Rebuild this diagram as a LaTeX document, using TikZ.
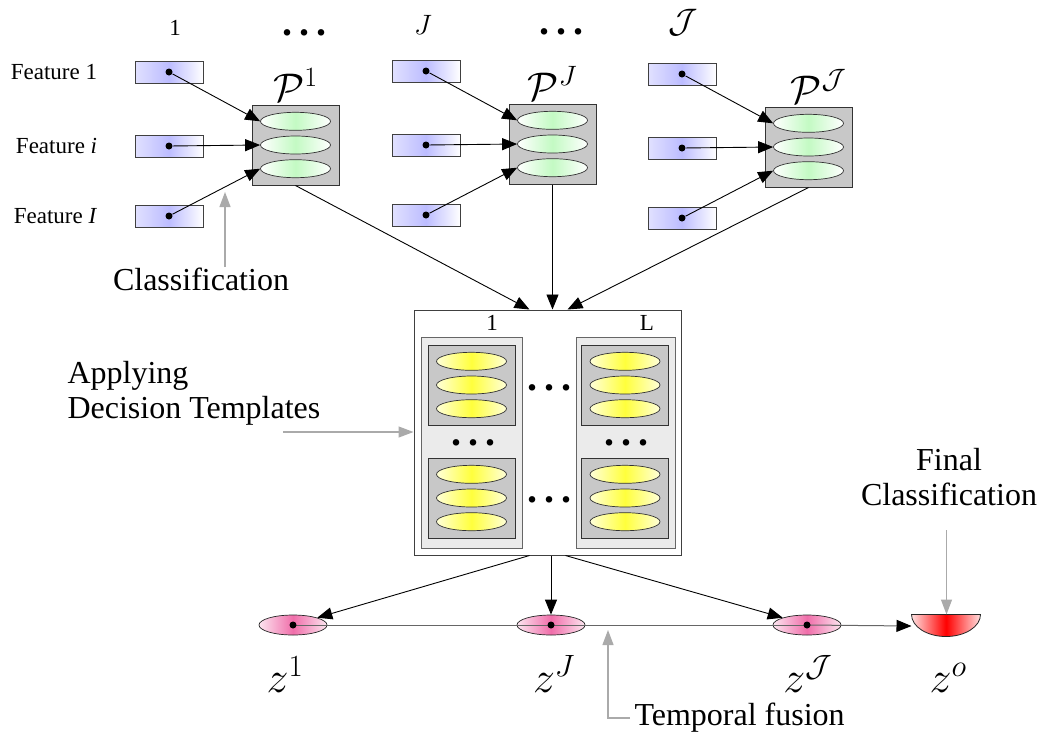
\documentclass[tikz,border=0pt]{standalone}
\usepackage{fix-cm}
\usepackage{fontspec}
\setmainfont{Liberation Serif}
\usepackage{tikz}
\usetikzlibrary{arrows.meta, positioning, shapes.geometric}
\definecolor{featblue}{RGB}{188,188,255}
\definecolor{clsgreen}{RGB}{195,250,195}
\definecolor{dtyellow}{RGB}{255,255,60}
\definecolor{zpink}{RGB}{240,110,170}
\definecolor{boxgray}{RGB}{200,200,200}
\definecolor{panelgray}{RGB}{235,235,235}
\definecolor{notegray}{RGB}{170,170,170}
\newcommand{\bigdots}{\textbf{.\kern7pt.\kern7pt.}}

\begin{document}
\begin{tikzpicture}[x=1pt, y=-1pt, line width=1pt,
  feat/.style={draw=black!75, line width=0.8pt, minimum width=68pt, minimum height=22pt, inner sep=0pt, left color=featblue!45, right color=white, middle color=featblue},
  flabel/.style={inner sep=0pt, font=\fontsize{23}{25}\selectfont},
  clsbox/.style={draw=black!80, fill=boxgray, minimum width=87pt, minimum height=80pt, inner sep=0pt},
  clsell/.style={ellipse, draw=black!80, line width=0.7pt, minimum width=70pt, minimum height=18pt, inner sep=0pt, left color=white, right color=white, middle color=clsgreen},
  dtbox/.style={draw=black!80, fill=boxgray, minimum width=87pt, minimum height=80pt, inner sep=0pt},
  dtell/.style={ellipse, draw=black!80, line width=0.7pt, minimum width=70pt, minimum height=18pt, inner sep=0pt, left color=dtyellow!20, right color=dtyellow!20, middle color=dtyellow},
  panel/.style={draw=black!60, fill=panelgray, minimum height=211pt, inner sep=0pt},
  zell/.style={ellipse, draw=black!85, line width=0.7pt, minimum width=68pt, minimum height=20pt, inner sep=0pt, left color=zpink!18, right color=zpink!18, middle color=zpink},
  fdot/.style={circle, fill=black, minimum size=7pt, inner sep=0pt},
  conn/.style={-{Triangle[length=15pt, width=12pt]}, line width=0.9pt},
  tline/.style={draw=black!60, line width=1pt},
  tarrow/.style={tline, -{Triangle[length=15pt, width=12pt, color=black]}},
  note/.style={-{Triangle[length=15pt, width=11pt]}, draw=notegray, line width=1.2pt},
  notetext/.style={inner sep=0pt, font=\fontsize{32}{35}\selectfont},
  toplabel/.style={inner sep=0pt, font=\fontsize{23}{25}\selectfont},
  plabel/.style={inner sep=0pt, font=\fontsize{40}{42}\selectfont},
  zlabel/.style={inner sep=0pt, font=\fontsize{44}{46}\selectfont},
  dotsl/.style={inner sep=0pt, font=\fontsize{40}{42}\selectfont}]

  \useasboundingbox (0,0) rectangle (1046,740);

  % classifiers per time step
  \foreach \c/\fx/\px/\dy in {1/169/295.5/0, 2/426/552.5/-1, 3/682/808.5/2} {
    \node[clsbox] (p\c) at (\px,145+\dy) {};
    \node[clsell] (e\c2) at (p\c) {};
    \node[clsell, above=5pt of e\c2] (e\c1) {};
    \node[clsell, below=5pt of e\c2] (e\c3) {};
    \foreach \r/\fy in {1/72, 2/146, 3/216} {
      \node[feat] (f\c\r) at (\fx,\fy+\dy) {};
      \node[fdot] (d\c\r) at (f\c\r) {};
      \draw[conn] (d\c\r) -- (e\c\r.west);
    }
  }

  \node[flabel, left=37pt of f11] (fl1) {Feature 1};
  \node[flabel, left=37pt of f12] (fl2) {Feature \textit{i}};
  \node[flabel, left=37pt of f13] (fl3) {Feature \textit{I}};

  \node[plabel, above=3pt of p1] (lp1) {$\mathcal{P}^1$};
  \node[plabel, above=3pt of p2] (lp2) {$\mathcal{P}^J$};
  \node[plabel, above=3pt of p3, xshift=10pt] (lp3) {$\mathcal{P}^{\mathcal{J}}$};

  \node[toplabel] (t1) at (175,28) {1};
  \node[dotsl] (t2) at (304,33) {\bigdots};
  \node[toplabel, font=\fontsize{28}{30}\selectfont] (t3) at (423,25) {$J$};
  \node[dotsl] (t4) at (561,32) {\bigdots};
  \node[plabel, font=\fontsize{34}{36}\selectfont] (t5) at (683,23) {$\mathcal{J}$};

  % decision templates
  \node[draw=black!75, minimum width=267pt, minimum height=245pt, inner sep=0pt] (dt) at (547.5,432.5) {};
  \node[panel, minimum width=101pt] (pl) at (471.5,442.5) {};
  \node[panel, minimum width=99pt] (pr) at (625.5,442.5) {};
  \node[toplabel] (l1) at (492,323) {1};
  \node[toplabel] (lL) at (647,323) {L};
  \foreach \b/\x/\y in {11/471.5/385, 12/471.5/498, 21/625/385, 22/625/498} {
    \node[dtbox] (b\b) at (\x,\y) {};
    \node[dtell] (y\b2) at (b\b) {};
    \node[dtell, above=5pt of y\b2] (y\b1) {};
    \node[dtell, below=5pt of y\b2] (y\b3) {};
  }
  \node[dotsl] (m1) at (549,388) {\bigdots};
  \node[dotsl] (m2) at (549,500) {\bigdots};
  \node[dotsl] (m3) at (473,443) {\bigdots};
  \node[dotsl] (m4) at (626,443) {\bigdots};

  \draw[conn] (p1.south) -- ([xshift=-18pt]dt.north);
  \draw[conn] (p2.south) -- (p2.south |- dt.north);
  \draw[conn] (p3.south) -- ([xshift=20pt]dt.north);

  % temporal fusion
  \node[zell] (z1) at (293,625) {};
  \node[zell] (zJ) at (551,625) {};
  \node[zell] (zJJ) at (807,625) {};
  \node[minimum width=69pt, minimum height=22pt, inner sep=0pt] (zo) at (946.5,626) {};
  \shadedraw[left color=red!12, right color=red!12, middle color=red, draw=black!85, line width=0.8pt]
    (zo.north west) arc[start angle=180, end angle=360, x radius=34.5pt, y radius=22pt] -- cycle;

  \draw[conn] ([xshift=-18pt]dt.south) -- (z1.north east);
  \draw[conn] (zJ.north |- dt.south) -- (zJ.north);
  \draw[conn] ([xshift=18pt]dt.south) -- (zJJ.north west);
  \draw[tline] (z1.center) -- (zJ.center) -- (zJJ.center);
  \draw[tarrow] (zJJ.center) -- (zo.west);
  \node[fdot] (dz1) at (z1) {};
  \node[fdot] (dzJ) at (zJ) {};
  \node[fdot] (dzJJ) at (zJJ) {};

  \node[zlabel, anchor=base] (lz1) at (285,692) {$z^1$};
  \node[zlabel, anchor=base] (lzJ) at (554,692) {$z^J$};
  \node[zlabel, anchor=base] (lzJJ) at (808,692) {$z^{\mathcal{J}}$};
  \node[zlabel, anchor=base] (lzo) at (948,692) {$z^o$};

  % annotations
  \node[notetext] (ncls) at (201,279) {Classification};
  \coordinate (clstip) at (225,192);
  \draw[note] (clstip |- ncls.north) -- (clstip);

  \node[notetext, align=left, anchor=north west] (ndt) at (67,361) {Applying\\Decision Templates};
  \coordinate (dtfrom) at (283,432);
  \draw[note] (dtfrom) -- (dtfrom -| dt.west);

  \node[notetext, align=center, anchor=north] (nfin) at (949,448) {Final\\Classification};
  \coordinate (fintop) at (946.5,530);
  \draw[note] (fintop) -- (zo.north);

  \node[notetext, anchor=west] (ntf) at (634,718) {Temporal fusion};
  \coordinate (tftip) at (608,630);
  \draw[note] ([xshift=-4pt]ntf.west) -| (tftip);
\end{tikzpicture}
\end{document}
